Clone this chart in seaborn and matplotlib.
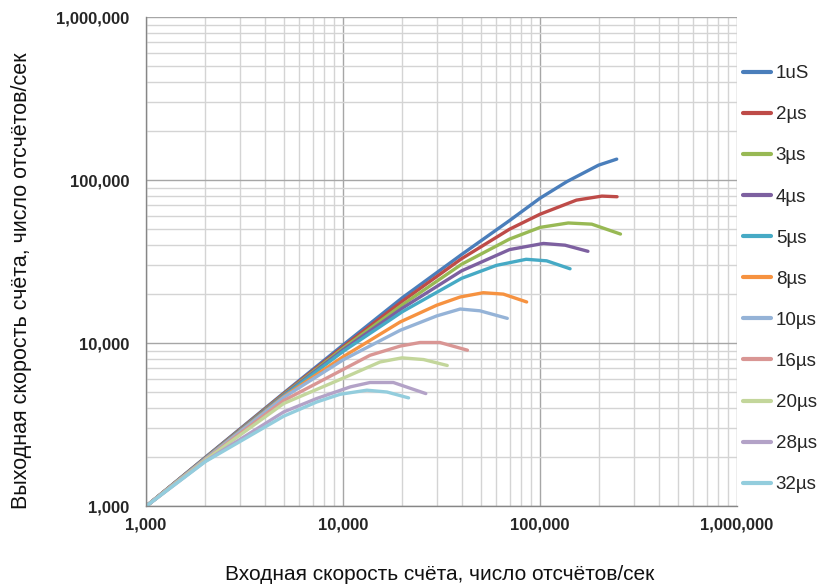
import matplotlib
matplotlib.use("Agg")
import matplotlib.pyplot as plt
from matplotlib.ticker import FuncFormatter, LogLocator, NullFormatter
import pandas as pd
import seaborn as sns

# dead-time settings and measured input/output rates (counts per second)
labels = ["1uS", "2µs", "3µs", "4µs", "5µs", "8µs", "10µs", "16µs", "20µs", "28µs", "32µs"]

x_1 = [1000, 2000, 5000, 10000, 20000, 40000, 70000, 100000, 137000, 198000, 245000]
y_1 = [1000, 1995, 4950, 9750, 19000, 35000, 56500, 77500, 98000, 123500, 134500]
x_2 = [1000, 2000, 5000, 10000, 20000, 40000, 70000, 100000, 153000, 206000, 246000]
y_2 = [1000, 1985, 4900, 9500, 18100, 33000, 50000, 61800, 75400, 79800, 79100]
x_3 = [1000, 2000, 5000, 10000, 20000, 40000, 70000, 100000, 139000, 183000, 256000]
y_3 = [1000, 1975, 4850, 9300, 17200, 30500, 43500, 51300, 54600, 53700, 46700]
x_4 = [1000, 2000, 5000, 10000, 20000, 40000, 70000, 104000, 134000, 175000]
y_4 = [1000, 1970, 4800, 9100, 16400, 27800, 37500, 40900, 39900, 36600]
x_5 = [1000, 2000, 5000, 10000, 20000, 40000, 60000, 85000, 108000, 142000]
y_5 = [1000, 1965, 4750, 8900, 15600, 25000, 30000, 32700, 32000, 28600]
x_8 = [1000, 2000, 5000, 10000, 19500, 29900, 39300, 51500, 65100, 85500]
y_8 = [1000, 1955, 4700, 8250, 13500, 17100, 19200, 20400, 20000, 17900]
x_10 = [1000, 2000, 5000, 10000, 19500, 29900, 39300, 49500, 68200]
y_10 = [1000, 1950, 4650, 7900, 12000, 14700, 16200, 15800, 14200]
x_16 = [1000, 2000, 5000, 10000, 13700, 19500, 24600, 31000, 42800]
y_16 = [1000, 1930, 4450, 6900, 8430, 9600, 10100, 10100, 9060]
x_20 = [1000, 2000, 5000, 10000, 15400, 19900, 25600, 33800]
y_20 = [1000, 1920, 4270, 6100, 7670, 8130, 7940, 7300]
x_28 = [1000, 2000, 5000, 7350, 10900, 13700, 18000, 26300]
y_28 = [1000, 1890, 3790, 4580, 5400, 5740, 5740, 4910]
x_32 = [1000, 2000, 5000, 7350, 9660, 13200, 16700, 21500]
y_32 = [1000, 1880, 3570, 4360, 4860, 5150, 5020, 4620]

xs = [x_1, x_2, x_3, x_4, x_5, x_8, x_10, x_16, x_20, x_28, x_32]
ys = [y_1, y_2, y_3, y_4, y_5, y_8, y_10, y_16, y_20, y_28, y_32]

colors = ["#4A7EBB", "#BE4B48", "#98B954", "#7D60A0", "#46AAC5", "#F69240",
          "#95B3D7", "#D99694", "#C3D69B", "#B3A2C7", "#93CDDD"]

rows = []
for lab, xv, yv in zip(labels, xs, ys):
    for i, (a, b) in enumerate(zip(xv, yv)):
        rows.append({"series": lab, "order": i, "inp": a, "out": b})
df = pd.DataFrame(rows)

sns.set_style("white")
plt.rcParams["font.family"] = ["Liberation Sans", "DejaVu Sans"]

fig = plt.figure(figsize=(8.3, 5.88), dpi=100)
ax = fig.add_axes([0.176, 0.139, 0.712, 0.832])

sns.lineplot(data=df, x="inp", y="out", hue="series", hue_order=labels,
             palette=colors, sort=False, estimator=None, units="series",
             linewidth=2.4, ax=ax)

ax.set_xscale("log")
ax.set_yscale("log")
ax.set_xlim(1000, 1000000)
ax.set_ylim(1000, 1000000)

fmt = FuncFormatter(lambda v, p: f"{int(round(v)):,}")
for axis in (ax.xaxis, ax.yaxis):
    axis.set_major_locator(LogLocator(base=10))
    axis.set_minor_locator(LogLocator(base=10, subs=range(2, 10)))
    axis.set_major_formatter(fmt)
    axis.set_minor_formatter(NullFormatter())

ax.grid(which="major", color="#A6A6A6", linewidth=1.0)
ax.grid(which="minor", color="#D4D4D4", linewidth=1.0)
ax.set_axisbelow(True)
for side in ("top", "right"):
    ax.spines[side].set_visible(False)
for side in ("left", "bottom"):
    ax.spines[side].set_color("#868686")
    ax.spines[side].set_linewidth(1.0)

ax.tick_params(which="both", length=0)
ax.tick_params(axis="x", pad=8)
ax.tick_params(axis="y", pad=12)
for t in ax.get_xticklabels() + ax.get_yticklabels():
    t.set_fontweight("bold")
    t.set_fontsize(12)
    t.set_color("#262626")

ax.set_xlabel("Входная скорость счёта, число отсчётов/сек", fontsize=15,
              color="#111111")
ax.xaxis.set_label_coords(0.497, -0.12)
ax.set_ylabel("Выходная скорость счёта, число отсчётов/сек", fontsize=15.5,
              color="#111111")
ax.yaxis.set_label_coords(-0.193, 0.462)

leg = ax.legend(loc="upper left", bbox_to_anchor=(743 / 830, 1 - 65 / 588),
                bbox_transform=fig.transFigure, frameon=False,
                fontsize=13.5, handlelength=1.5, handletextpad=0.25,
                labelspacing=1.28, borderaxespad=0, borderpad=0)
for line in leg.get_lines():
    line.set_linewidth(3)

fig.savefig("out.png", dpi=100)
